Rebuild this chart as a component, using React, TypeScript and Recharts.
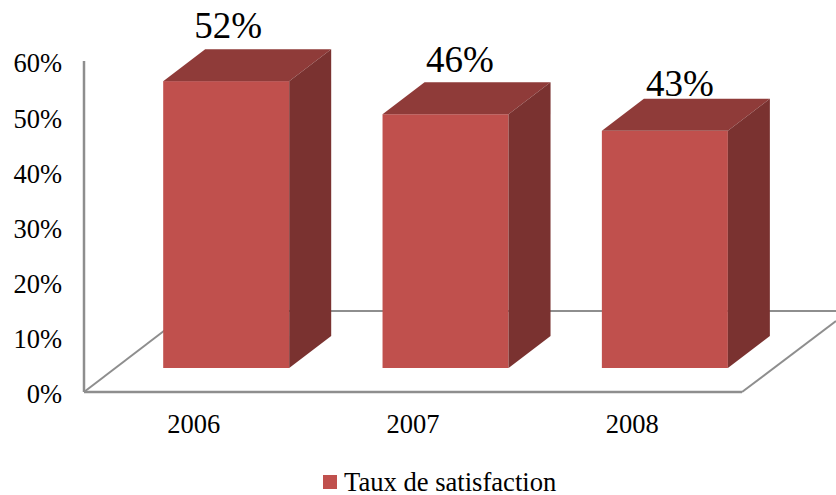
import { Bar, BarChart, LabelList, Legend, XAxis, YAxis, usePlotArea } from 'recharts';

const years = ['2006', '2007', '2008'];
const satisfaction = [52, 46, 43];
const yTicks = [0, 10, 20, 30, 40, 50, 60];

const data = years.map((year, i) => ({ year, value: satisfaction[i] }));

const SERIF = '"Liberation Serif", "Times New Roman", serif';
const AXIS_COLOR = '#8e8e8e';
const RED = '#c0504d';

// fake 3d: the box sits a bit further back than the axis plane
const DEPTH_X = 42;
const DEPTH_Y = 32;
const SHIFT_X = 32.2;
const SHIFT_Y = 24;

// the data labels were moved by hand in the original
const labelNudge = [
  { dx: 2, dy: 11 },
  { dx: 14.5, dy: 10 },
  { dx: 15, dy: 3 },
];

const Floor = () => {
  const plot = usePlotArea();
  if (!plot) return null;
  const { x, y, width, height } = plot;
  const bottom = y + height;
  const right = x + width;
  const back = bottom - 81;
  return (
    <g stroke={AXIS_COLOR} fill="none" strokeWidth={2}>
      <line x1={x} y1={bottom} x2={x + 106} y2={back} />
      <line x1={x + 106} y1={back} x2={836} y2={back} />
      <line x1={right} y1={bottom} x2={836} y2={bottom - 71} />
    </g>
  );
};

const Box = (props: any) => {
  const { x, y, width, height } = props;
  const left = x + SHIFT_X;
  const right = left + width;
  const top = y - SHIFT_Y;
  const base = top + height;
  return (
    <g>
      <rect x={left} y={top} width={width} height={height} fill={RED} />
      <polygon
        points={`${left},${top} ${left + DEPTH_X},${top - DEPTH_Y} ${right + DEPTH_X},${top - DEPTH_Y} ${right},${top}`}
        fill="#8f3b39"
      />
      <polygon
        points={`${right},${top} ${right + DEPTH_X},${top - DEPTH_Y} ${right + DEPTH_X},${base - DEPTH_Y} ${right},${base}`}
        fill="#7a3230"
      />
    </g>
  );
};

const TopLabel = (props: any) => {
  const { x, y, width, value, index } = props;
  const nudge = labelNudge[index];
  return (
    <text
      x={x + width / 2 + SHIFT_X + nudge.dx}
      y={y - SHIFT_Y - DEPTH_Y - nudge.dy}
      textAnchor="middle"
      fontSize={37}
      fontFamily={SERIF}
      fill="#000"
    >
      {value}%
    </text>
  );
};

const LegendRow = ({ payload }: any) => (
  <div style={{ position: 'relative', height: 30 }}>
    {(payload || []).map((entry: any) => (
      <div key={entry.value}>
        <span style={{ position: 'absolute', left: 323, top: 10, width: 14, height: 14, background: entry.color }} />
        <span style={{ position: 'absolute', left: 344, top: 4, lineHeight: '26px', fontSize: 26.6, fontFamily: SERIF, color: '#000', whiteSpace: 'nowrap' }}>
          {entry.value}
        </span>
      </div>
    ))}
  </div>
);

export default function App() {
  return (
    <div style={{ position: 'absolute', left: 0, top: 0, width: 836, height: 495, background: '#fff' }}>
      <BarChart
        width={836}
        height={495}
        data={data}
        margin={{ top: 61, right: 94, bottom: 0, left: 0 }}
      >
        <Floor />
        <XAxis
          dataKey="year"
          height={73}
          axisLine={{ stroke: AXIS_COLOR, strokeWidth: 2.5 }}
          tickLine={false}
          tickMargin={16}
          tick={{ fontSize: 26.5, fontFamily: SERIF, fill: '#000' }}
        />
        <YAxis
          width={84}
          domain={[0, 60]}
          ticks={yTicks}
          tickFormatter={(v: number) => `${v}%`}
          axisLine={{ stroke: AXIS_COLOR, strokeWidth: 2.5 }}
          tickLine={false}
          tickMargin={16}
          tick={{ fontSize: 26.5, fontFamily: SERIF, fill: '#000', dy: 2 }}
        />
        <Legend
          verticalAlign="bottom"
          height={30}
          wrapperStyle={{ left: 0, width: 836 }}
          content={LegendRow}
        />
        <Bar dataKey="value" name="Taux de satisfaction" fill={RED} barSize={126} shape={Box} isAnimationActive={false}>
          <LabelList dataKey="value" content={TopLabel} />
        </Bar>
      </BarChart>
    </div>
  );
}
